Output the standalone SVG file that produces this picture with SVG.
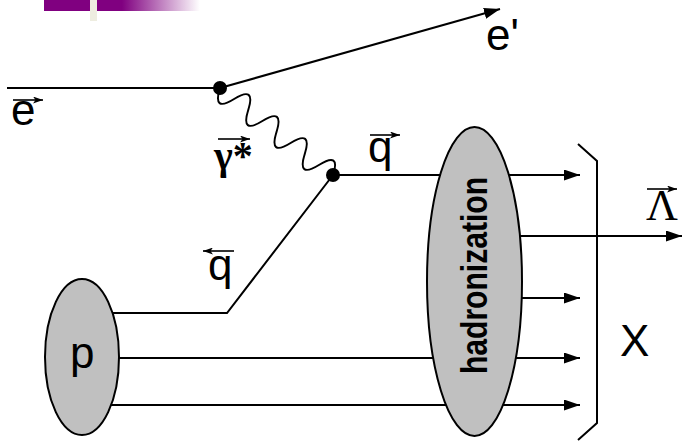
<svg xmlns="http://www.w3.org/2000/svg" width="683" height="442" viewBox="0 0 683 442">
<defs>
<linearGradient id="fade" x1="0" y1="0" x2="1" y2="0">
<stop offset="0" stop-color="#800080"/>
<stop offset="1" stop-color="#800080" stop-opacity="0"/>
</linearGradient>
<marker id="arr" viewBox="0 0 16 11" refX="16" refY="5.5" markerWidth="16" markerHeight="11" orient="auto" markerUnits="userSpaceOnUse">
<path d="M0,0 L16,5.5 L0,11 z" fill="#000"/>
</marker>
<marker id="vec" viewBox="0 0 10 7" refX="10" refY="3.5" markerWidth="10" markerHeight="7" orient="auto" markerUnits="userSpaceOnUse">
<path d="M0,0 L10,3.5 L0,7 L2.5,3.5 z" fill="#000"/>
</marker>
</defs>
<style>
.ln{fill:none;stroke:#000;stroke-width:2}
.vl{fill:none;stroke:#000;stroke-width:1.6}
.blob{fill:#c0c0c0;stroke:#000;stroke-width:2}
.lbl{font-family:"Liberation Sans",Arial,sans-serif;font-size:44px;fill:#000}
.ser{font-family:"Liberation Serif","Times New Roman",serif;fill:#000}
.had{font-family:"Liberation Sans",Arial,sans-serif;font-weight:bold;font-size:36px;fill:#000}
</style>
<rect width="683" height="442" fill="#fff"/>
<g id="banner">
<rect x="44" y="0" width="78" height="11" fill="#800080"/>
<rect x="122" y="0" width="78" height="11" fill="url(#fade)"/>
<rect x="90" y="0" width="7" height="21" fill="#eeede0"/>
</g>
<g id="connectors">
<path class="ln" d="M7,88 L220,88"/>
<path class="ln" d="M220,88 L500,9" marker-end="url(#arr)"/>
<path class="ln" d="M220,88 Q212.2,112.7 234.1,99 Q256.1,85.3 248.25,110 Q240.4,134.7 262.4,121 Q284.3,107.3 276.5,132 Q268.7,156.7 290.6,143 Q312.6,129.3 304.75,154 Q296.9,178.7 318.9,165 Q340.9,151.3 333,175"/>
<path class="ln" d="M333,175 L580,175" marker-end="url(#arr)"/>
<path class="ln" d="M82,313 L227,313 L333,175"/>
<path class="ln" d="M474,236 L682,236" marker-end="url(#arr)"/>
<path class="ln" d="M474,298 L580,298" marker-end="url(#arr)"/>
<path class="ln" d="M82,358 L580,358" marker-end="url(#arr)"/>
<path class="ln" d="M82,405 L580,405" marker-end="url(#arr)"/>
<path class="ln" d="M578,144 L597,161 L597,423 L578,440"/>
</g>
<g id="vertex1"><circle cx="220" cy="88" r="7" fill="#000"/></g>
<g id="vertex2"><circle cx="333" cy="175" r="7" fill="#000"/></g>
<g id="proton">
<ellipse class="blob" cx="82" cy="357" rx="37" ry="78"/>
<text class="lbl" x="70" y="368">p</text>
</g>
<g id="hadronization">
<ellipse class="blob" cx="474.5" cy="281.5" rx="47.5" ry="154.5"/>
<text class="had" transform="translate(487,275.5) rotate(-90)" x="0" y="0" text-anchor="middle" textLength="197" lengthAdjust="spacingAndGlyphs">hadronization</text>
</g>
<g id="labels">
<text class="lbl" x="11" y="125">e</text>
<path class="vl" d="M13,100 L43,100" marker-end="url(#vec)"/>
<text class="lbl" x="486" y="50">e'</text>
<text class="lbl" x="368" y="162">q</text>
<path class="vl" d="M370,135 L400,135" marker-end="url(#vec)"/>
<text class="lbl" x="208" y="280">q</text>
<path class="vl" d="M234,251 L203,251" marker-end="url(#vec)"/>
<text class="ser" x="214" y="169" font-size="40" font-weight="bold">γ*</text>
<path class="vl" d="M218,139 L250,139" marker-end="url(#vec)"/>
<text class="ser" x="646" y="220" font-size="44">Λ</text>
<path class="vl" d="M647,189 L677,189" marker-end="url(#vec)"/>
<text class="lbl" x="620" y="356">X</text>
</g>
</svg>
